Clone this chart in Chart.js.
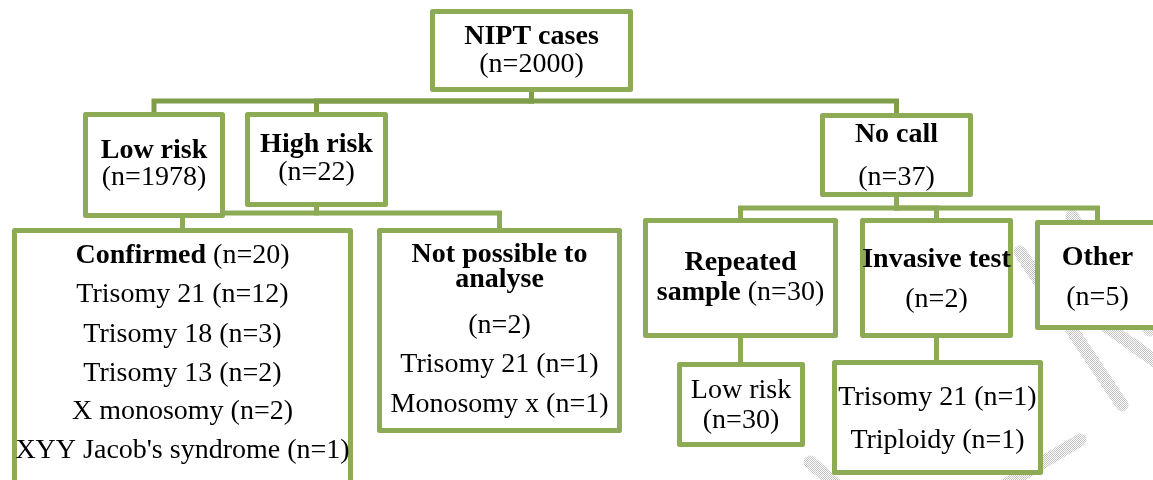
<!DOCTYPE html>
<html>
<head>
<meta charset="utf-8">
<script src="https://cdn.jsdelivr.net/npm/chart.js@4"></script>
<style>
  body { margin: 0; background: #fff; }
  #wrap { width: 1153px; height: 480px; }
</style>
</head>
<body>
<div id="wrap"><canvas id="fluxo" width="1153" height="480"></canvas></div>
<script>
// dados do fluxograma
const nodeNames = ['NIPT cases', 'Low risk', 'High risk', 'No call', 'Confirmed', 'Not possible to analyse',
                   'Repeated sample', 'Invasive test', 'Other', 'Low risk', 'Invasive result'];
const nodeCounts = [2000, 1978, 22, 37, 20, 2, 30, 2, 5, 30, 2];
const nodeParents = [null, 0, 0, 0, 2, 2, 3, 3, 3, 6, 7];

const confirmedTypes = ['Trisomy 21', 'Trisomy 18', 'Trisomy 13', 'X monosomy', "XYY Jacob's syndrome"];
const confirmedCounts = [12, 3, 2, 2, 1];
const failedTypes = ['Trisomy 21', 'Monosomy x'];
const failedCounts = [1, 1];
const invasiveTypes = ['Trisomy 21', 'Triploidy'];
const invasiveCounts = [1, 1];

// layout (unidades do eixo: 0..1153 x 0..480)
const boxes = [
  [430, 9, 633, 92], [83, 112, 225, 218], [245, 112, 388, 207], [820, 113, 973, 197],
  [12, 228, 353, 495], [377, 228, 622, 433], [643, 218, 838, 338], [860, 218, 1013, 338],
  [1035, 220, 1160, 330], [677, 362, 805, 447], [832, 360, 1043, 475]
];
const busY = { 0: 101, 2: 213, 3: 208 };
const baselines = [
  [44, 72], [158, 185], [152, 180], [142, 185],
  [263, 302, 342, 381, 419, 458], [262, 287, 333, 372, 412],
  [270, 300], [267, 307], [265, 305], [398, 428], [405, 448]
];
// marca d'agua ao fundo
const marca = [[1020, 252, 1122, 405], [1095, 318, 1165, 368], [1072, 216, 1150, 330],
               [1080, 440, 1000, 488], [810, 462, 840, 488]];

const cnt = n => '(n=' + n + ')';
const B = t => [t, true];
const R = t => [t, false];

function detalhes(tipos, ns) {
  return tipos.map((t, i) => [R(t + ' ' + cnt(ns[i]))]);
}

const nodeLines = [
  [[B(nodeNames[0])], [R(cnt(nodeCounts[0]))]],
  [[B(nodeNames[1])], [R(cnt(nodeCounts[1]))]],
  [[B(nodeNames[2])], [R(cnt(nodeCounts[2]))]],
  [[B(nodeNames[3])], [R(cnt(nodeCounts[3]))]],
  [[B(nodeNames[4]), R(' ' + cnt(nodeCounts[4]))]].concat(detalhes(confirmedTypes, confirmedCounts)),
  [[B('Not possible to')], [B('analyse')], [R(cnt(nodeCounts[5]))]].concat(detalhes(failedTypes, failedCounts)),
  [[B('Repeated')], [B('sample'), R(' ' + cnt(nodeCounts[6]))]],
  [[B(nodeNames[7])], [R(cnt(nodeCounts[7]))]],
  [[B(nodeNames[8])], [R(cnt(nodeCounts[8]))]],
  [[R(nodeNames[9])], [R(cnt(nodeCounts[9]))]],
  detalhes(invasiveTypes, invasiveCounts)
];

const verde = '#8dab55';
const verdeEscuro = '#809d4a';
const fonte = '28px "Liberation Serif"';

function hachura(c) {
  const p = document.createElement('canvas');
  p.width = 2; p.height = 2;
  const pc = p.getContext('2d');
  pc.fillStyle = '#fff';
  pc.fillRect(0, 0, 2, 2);
  pc.fillStyle = '#c4c4c4';
  pc.fillRect(0, 0, 1, 1);
  pc.fillRect(1, 1, 1, 1);
  return c.createPattern(p, 'repeat');
}

const fluxoPlugin = {
  id: 'fluxo',
  afterDatasetsDraw(chart) {
    const c = chart.ctx;
    const px = v => chart.scales.x.getPixelForValue(v);
    const py = v => chart.scales.y.getPixelForValue(v);
    c.save();

    // marca d'agua
    c.strokeStyle = hachura(c);
    c.lineWidth = 13;
    c.lineCap = 'round';
    marca.forEach(m => {
      c.beginPath();
      c.moveTo(px(m[0]), py(m[1]));
      c.lineTo(px(m[2]), py(m[3]));
      c.stroke();
    });

    // ligacoes
    c.lineCap = 'butt';
    c.lineWidth = 5;
    nodeParents.forEach((p, i) => {
      if (p === null) return;
      const pb = boxes[p], cb = boxes[i];
      const pxm = (pb[0] + pb[2]) / 2, cxm = (cb[0] + cb[2]) / 2;
      c.strokeStyle = p === 0 ? verdeEscuro : verde;
      c.beginPath();
      if (busY[p] !== undefined) {
        c.moveTo(px(pxm), py(pb[3]));
        c.lineTo(px(pxm), py(busY[p]));
        c.lineTo(px(cxm), py(busY[p]));
        c.lineTo(px(cxm), py(cb[1]));
      } else {
        c.moveTo(px(pxm), py(pb[3]));
        c.lineTo(px(pxm), py(cb[1]));
      }
      c.stroke();
    });

    // caixas
    c.lineJoin = 'round';
    boxes.forEach(b => {
      const x0 = px(b[0]) + 2.5, y0 = py(b[1]) + 2.5;
      const w = px(b[2]) - px(b[0]) - 5, h = py(b[3]) - py(b[1]) - 5;
      c.fillStyle = '#fff';
      c.fillRect(x0, y0, w, h);
      c.strokeStyle = verde;
      c.strokeRect(x0, y0, w, h);
    });

    // textos
    c.fillStyle = '#000';
    c.textBaseline = 'alphabetic';
    c.textAlign = 'left';
    nodeLines.forEach((linhas, i) => {
      const b = boxes[i];
      const cx = px((b[0] + b[2]) / 2);
      linhas.forEach((runs, j) => {
        let total = 0;
        runs.forEach(r => {
          c.font = (r[1] ? 'bold ' : '') + fonte;
          total += c.measureText(r[0]).width;
        });
        let x = cx - total / 2;
        runs.forEach(r => {
          c.font = (r[1] ? 'bold ' : '') + fonte;
          c.fillText(r[0], x, py(baselines[i][j]));
          x += c.measureText(r[0]).width;
        });
      });
    });
    c.restore();
  }
};

const ctx = document.getElementById('fluxo');
new Chart(ctx, {
  type: 'scatter',
  data: {
    datasets: [{
      label: 'nodes',
      data: boxes.map((b, i) => ({ x: (b[0] + b[2]) / 2, y: (b[1] + b[3]) / 2, n: nodeCounts[i] })),
      pointRadius: 0
    }]
  },
  options: {
    responsive: false,
    animation: false,
    layout: { padding: 0 },
    plugins: { legend: { display: false }, tooltip: { enabled: false } },
    scales: {
      x: { type: 'linear', min: 0, max: 1153, display: false },
      y: { type: 'linear', min: 0, max: 480, reverse: true, display: false }
    }
  },
  plugins: [fluxoPlugin]
});
</script>
</body>
</html>
